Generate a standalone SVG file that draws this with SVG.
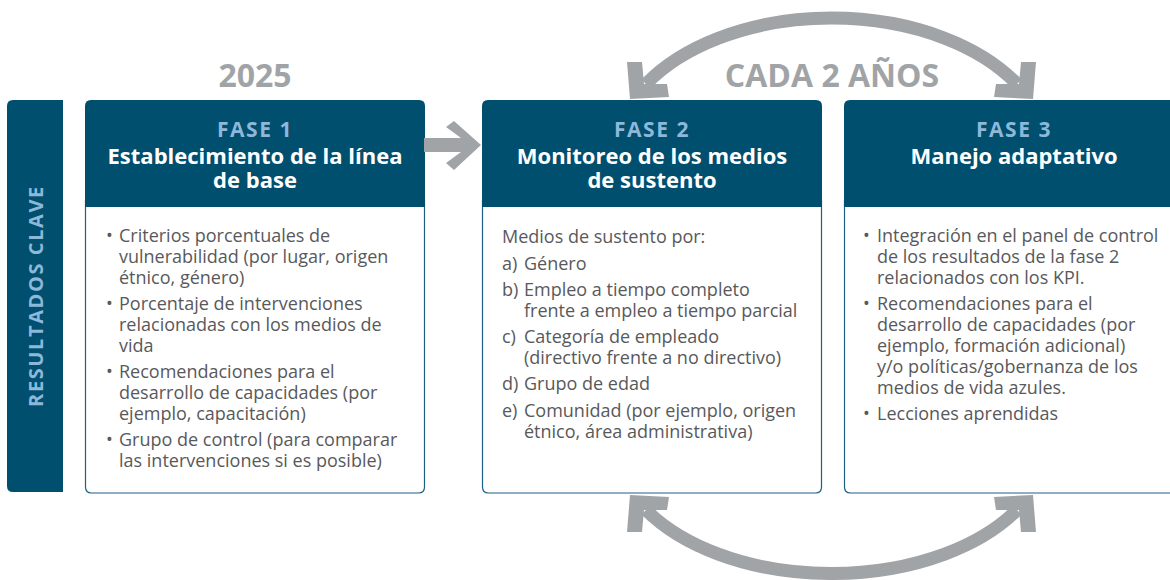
<svg xmlns="http://www.w3.org/2000/svg" width="1170" height="580" viewBox="0 0 1170 580">
<style>
.hdr{fill:#004F6E}
.body{fill:#fff;stroke:#1F5F85;stroke-width:1.2}
.fase{font-family:"Open Sans","Noto Sans",sans-serif;font-weight:700;font-size:21px;fill:#8DB8DA;text-anchor:middle;letter-spacing:1.5px}
.ttl{font-family:"Open Sans","Noto Sans",sans-serif;font-weight:700;font-size:22px;fill:#fff;text-anchor:middle}
.txt{font-family:"Open Sans","Noto Sans",sans-serif;font-size:18px;fill:#58595B}
.big{font-family:"Open Sans","Noto Sans",sans-serif;font-weight:700;font-size:32px;fill:#A1A4A7;text-anchor:middle}
.arc{fill:none;stroke:#A1A4A7;stroke-width:13}
.ah{fill:#A1A4A7}
</style>

<g id="resultados-clave">
<path class="hdr" d="M13,100 H63 V492 H13 Q7,492 7,486 V106 Q7,100 13,100 Z"/>
<text transform="translate(43,296) rotate(-90)" font-family="Open Sans, Noto Sans, sans-serif" font-weight="700" font-size="20" fill="#8DB8DA" text-anchor="middle" letter-spacing="1.6">RESULTADOS CLAVE</text>
</g>

<text id="label-2025" class="big" x="255" y="87">2025</text>
<text id="label-cada" class="big" x="832" y="87">CADA 2 AÑOS</text>

<g id="fase1">
<path class="body" d="M85.5,200 V487 Q85.5,493 91.5,493 H418.5 Q424.5,493 424.5,487 V200 Z"/>
<path class="hdr" d="M85,207 V106 Q85,100 91,100 H419 Q425,100 425,106 V207 Z"/>
<text class="fase" x="255" y="137">FASE  1</text>
<text class="ttl"><tspan x="255" y="164">Establecimiento de la línea</tspan><tspan x="255" y="188">de base</tspan></text>
<g class="txt">
<text><tspan x="106" y="242">•</tspan><tspan x="119" y="242">Criterios porcentuales de</tspan><tspan x="119" y="263">vulnerabilidad (por lugar, origen</tspan><tspan x="119" y="284">étnico, género)</tspan></text>
<text><tspan x="106" y="310">•</tspan><tspan x="119" y="310">Porcentaje de intervenciones</tspan><tspan x="119" y="331">relacionadas con los medios de</tspan><tspan x="119" y="352">vida</tspan></text>
<text><tspan x="106" y="378">•</tspan><tspan x="119" y="378">Recomendaciones para el</tspan><tspan x="119" y="399">desarrollo de capacidades (por</tspan><tspan x="119" y="420">ejemplo, capacitación)</tspan></text>
<text><tspan x="106" y="446">•</tspan><tspan x="119" y="446">Grupo de control (para comparar</tspan><tspan x="119" y="467">las intervenciones si es posible)</tspan></text>
</g>
</g>

<g id="fase2">
<path class="body" d="M482.5,200 V487 Q482.5,493 488.5,493 H815.5 Q821.5,493 821.5,487 V200 Z"/>
<path class="hdr" d="M482,207 V106 Q482,100 488,100 H816 Q822,100 822,106 V207 Z"/>
<text class="fase" x="652" y="137">FASE  2</text>
<text class="ttl"><tspan x="652" y="164">Monitoreo de los medios</tspan><tspan x="652" y="188">de sustento</tspan></text>
<g class="txt">
<text x="502" y="243">Medios de sustento por:</text>
<text><tspan x="502" y="270">a)</tspan><tspan x="524" y="270">Género</tspan></text>
<text><tspan x="502" y="296">b)</tspan><tspan x="524" y="296">Empleo a tiempo completo</tspan><tspan x="524" y="317">frente a empleo a tiempo parcial</tspan></text>
<text><tspan x="502" y="343">c)</tspan><tspan x="524" y="343">Categoría de empleado</tspan><tspan x="524" y="364">(directivo frente a no directivo)</tspan></text>
<text><tspan x="502" y="390">d)</tspan><tspan x="524" y="390">Grupo de edad</tspan></text>
<text><tspan x="502" y="417">e)</tspan><tspan x="524" y="417">Comunidad (por ejemplo, origen</tspan><tspan x="524" y="438">étnico, área administrativa)</tspan></text>
</g>
</g>

<g id="fase3">
<path class="body" d="M844.5,200 V487 Q844.5,493 850.5,493 H1177.5 Q1183.5,493 1183.5,487 V200 Z"/>
<path class="hdr" d="M844,207 V106 Q844,100 850,100 H1178 Q1184,100 1184,106 V207 Z"/>
<text class="fase" x="1014" y="137">FASE  3</text>
<text class="ttl" x="1014" y="164">Manejo adaptativo</text>
<g class="txt">
<text><tspan x="863" y="242">•</tspan><tspan x="877" y="242">Integración en el panel de control</tspan><tspan x="877" y="263">de los resultados de la fase 2</tspan><tspan x="877" y="284">relacionados con los KPI.</tspan></text>
<text><tspan x="863" y="310">•</tspan><tspan x="877" y="310">Recomendaciones para el</tspan><tspan x="877" y="331">desarrollo de capacidades (por</tspan><tspan x="877" y="352">ejemplo, formación adicional)</tspan><tspan x="877" y="373">y/o políticas/gobernanza de los</tspan><tspan x="877" y="394">medios de vida azules.</tspan></text>
<text><tspan x="863" y="420">•</tspan><tspan x="877" y="420">Lecciones aprendidas</tspan></text>
</g>
</g>

<g id="connectors">
<polygon class="ah" points="424,138 461,138 446,127 454,121 481,145 454,170 446,163 461,152 424,152"/>
<path class="arc" d="M646,84 A217 137 0 0 1 1017,84"/>
<polygon class="ah" points="630,99 627,62 642,62 644,84 667,84 669,97"/>
<polygon class="ah" points="1033,99 1036,62 1021,62 1019,84 996,84 994,97"/>
<path class="arc" d="M646,510 A217 132 0 0 0 1017,510"/>
<polygon class="ah" points="630,495 627,532 642,532 644,510 667,510 669,497"/>
<polygon class="ah" points="1033,495 1036,532 1021,532 1019,510 996,510 994,497"/>
</g>
</svg>
